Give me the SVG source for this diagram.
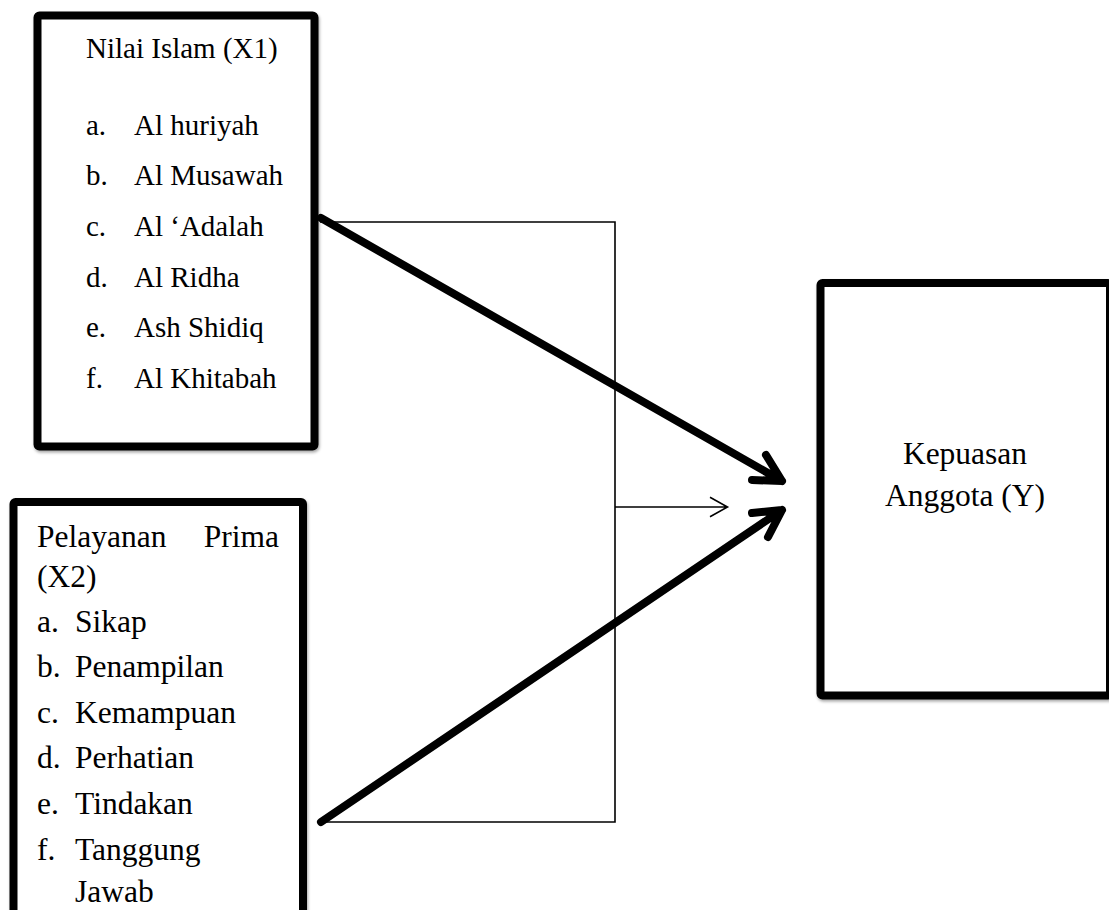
<svg xmlns="http://www.w3.org/2000/svg" width="1109" height="910" viewBox="0 0 1109 910">
<style>
.box{fill:#fff;stroke:#000;stroke-width:8;stroke-linejoin:round;filter:url(#sh)}
.t1{font-family:"Liberation Serif","Times New Roman",serif;font-size:29px;fill:#000}
.t2{font-family:"Liberation Serif","Times New Roman",serif;font-size:31.5px;fill:#000}
.thin{fill:none;stroke:#000;stroke-width:1.6}
.thick{fill:none;stroke:#000;stroke-width:8;stroke-linecap:round;stroke-linejoin:round}
</style>
<defs>
<filter id="sh" x="-10%" y="-10%" width="120%" height="120%">
<feDropShadow dx="1" dy="2" stdDeviation="1.5" flood-color="#000" flood-opacity="0.35"/>
</filter>
</defs>
<rect width="1109" height="910" fill="#fff"/>
<g id="connectors">
<path class="thin" d="M320,222 H615 V822 H320"/>
<path class="thin" d="M615,507 H727.5 M710,497.3 L727.5,507 L710,516.7"/>
<path class="thick" d="M321,218 L782,481 M766,455 L782,481 L752,480"/>
<path class="thick" d="M321,822 L782,510 M752,513 L782,510 L768,537"/>
</g>
<g id="node-x1">
<rect class="box" x="37.5" y="15.5" width="277" height="431" rx="2"/>
<text class="t1" x="86" y="58">Nilai Islam (X1)</text>
<text class="t1" x="86" y="135">a.</text><text class="t1" x="134" y="135">Al huriyah</text>
<text class="t1" x="86" y="185">b.</text><text class="t1" x="134" y="185">Al Musawah</text>
<text class="t1" x="86" y="236">c.</text><text class="t1" x="134" y="236">Al ‘Adalah</text>
<text class="t1" x="86" y="287">d.</text><text class="t1" x="134" y="287">Al Ridha</text>
<text class="t1" x="86" y="337">e.</text><text class="t1" x="134" y="337">Ash Shidiq</text>
<text class="t1" x="86" y="388">f.</text><text class="t1" x="134" y="388">Al Khitabah</text>
</g>
<g id="node-x2">
<rect class="box" x="13.5" y="502" width="289.5" height="430" rx="2"/>
<text class="t2" x="37" y="546.5">Pelayanan</text>
<text class="t2" x="279" y="546.5" text-anchor="end">Prima</text>
<text class="t2" x="37" y="587">(X2)</text>
<text class="t2" x="37" y="632">a.</text><text class="t2" x="75" y="632">Sikap</text>
<text class="t2" x="37" y="677">b.</text><text class="t2" x="75" y="677">Penampilan</text>
<text class="t2" x="37" y="723">c.</text><text class="t2" x="75" y="723">Kemampuan</text>
<text class="t2" x="37" y="768">d.</text><text class="t2" x="75" y="768">Perhatian</text>
<text class="t2" x="37" y="814">e.</text><text class="t2" x="75" y="814">Tindakan</text>
<text class="t2" x="37" y="860">f.</text><text class="t2" x="75" y="860">Tanggung</text>
<text class="t2" x="75" y="902">Jawab</text>
</g>
<g id="node-y">
<rect class="box" x="820.5" y="283" width="289.5" height="412.5" rx="2"/>
<text class="t2" x="965" y="464" text-anchor="middle">Kepuasan</text>
<text class="t2" x="965" y="506" text-anchor="middle">Anggota (Y)</text>
</g>
</svg>
